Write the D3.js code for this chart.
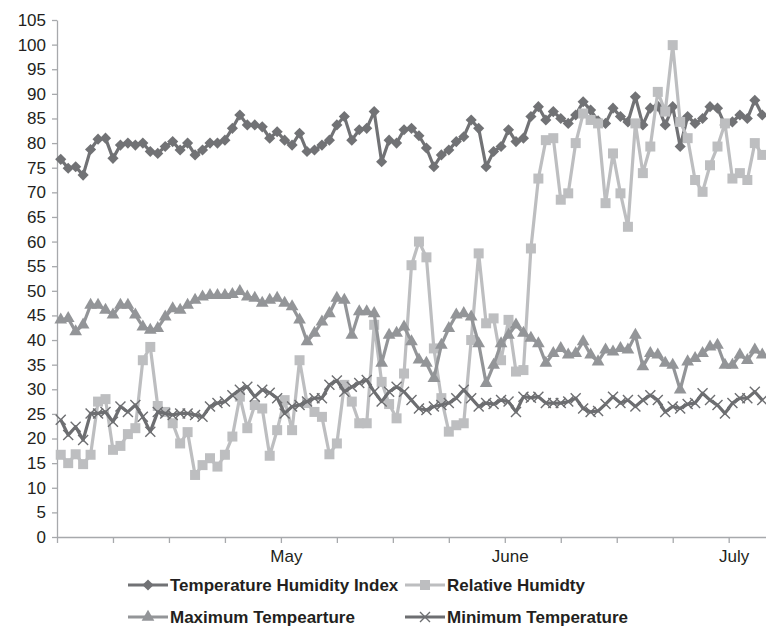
<!DOCTYPE html>
<html>
<head>
<meta charset="utf-8">
<script src="https://cdn.jsdelivr.net/npm/d3@7/dist/d3.min.js"></script>
<style>
  body { margin: 0; background: #fff; }
  svg { display: block; font-family: "Liberation Sans", Arial, sans-serif; }
</style>
</head>
<body>
<svg id="chart" width="766" height="628"></svg>
<script>
/** DATA **/
var thi = [
   76.7, 74.9, 75.2, 73.5, 78.7, 80.8, 81.0, 76.9, 79.6, 80.0,
   79.6, 80.0, 78.3, 77.9, 79.3, 80.3, 78.6, 80.0, 77.6, 78.6,
   80.0, 80.0, 80.6, 83.0, 85.7, 83.7, 83.7, 83.3, 81.0, 82.3,
   80.6, 79.6, 82.0, 78.3, 78.6, 79.6, 80.6, 83.7, 85.4, 80.6,
   82.7, 83.0, 86.4, 76.2, 80.6, 80.0, 82.7, 83.0, 81.5, 79.0,
   75.2, 77.6, 78.6, 80.3, 81.3, 84.7, 83.0, 75.2, 78.3, 79.3,
   82.7, 80.3, 81.0, 85.4, 87.4, 84.7, 86.4, 85.0, 84.0, 85.7,
   88.4, 86.7, 84.5, 84.0, 87.1, 85.4, 84.3, 89.4, 83.7, 87.1,
   87.5, 83.7, 87.4, 79.3, 85.4, 84.0, 85.0, 87.4, 87.1, 83.7,
   84.3, 85.7, 85.0, 88.7, 85.7
];
var humidity = [
   16.7, 15.0, 16.8, 14.8, 16.7, 27.5, 28.0, 17.7, 18.5, 20.9,
   22.1, 35.9, 38.6, 26.6, 25.4, 23.1, 19.0, 21.3, 12.6, 14.6,
   16.0, 14.3, 16.7, 20.4, 28.5, 22.1, 26.8, 26.1, 16.5, 21.7,
   27.8, 21.7, 35.9, 27.2, 25.4, 24.4, 16.8, 19.0, 30.9, 27.5,
   23.1, 23.1, 43.1, 31.5, 27.0, 24.1, 33.2, 55.2, 60.0, 56.8,
   38.3, 28.2, 21.4, 22.7, 23.1, 40.0, 57.6, 43.4, 44.4, 35.9,
   44.1, 33.6, 33.9, 58.6, 72.8, 80.6, 81.0, 68.5, 69.8, 80.0,
   86.0, 84.7, 84.0, 67.8, 77.9, 69.8, 63.0, 84.0, 73.9, 79.3,
   90.4, 86.4, 99.9, 84.3, 81.0, 72.5, 70.1, 75.5, 79.3, 84.0,
   72.8, 73.9, 72.5, 80.0, 77.6
];
var maxTemp = [
   44.1, 44.4, 41.7, 43.1, 47.1, 47.1, 46.1, 45.1, 47.1, 47.1,
   45.1, 42.7, 42.0, 42.4, 44.7, 46.4, 46.1, 47.1, 48.1, 48.8,
   49.1, 49.1, 49.1, 49.3, 49.9, 48.8, 48.5, 47.5, 48.1, 48.5,
   47.5, 46.8, 44.1, 39.7, 41.4, 43.7, 45.4, 48.5, 48.1, 41.0,
   45.8, 45.8, 45.4, 35.3, 41.0, 41.4, 42.7, 39.7, 36.0, 35.3,
   32.2, 39.0, 42.4, 45.1, 45.4, 44.7, 39.3, 31.2, 34.9, 39.3,
   41.0, 43.1, 41.4, 40.4, 39.3, 35.3, 37.3, 38.3, 37.0, 37.3,
   39.7, 37.0, 35.6, 38.0, 37.6, 38.3, 38.0, 41.0, 34.6, 37.3,
   37.0, 35.3, 34.9, 29.9, 35.6, 36.3, 37.3, 38.6, 39.0, 34.9,
   34.9, 37.0, 35.9, 38.0, 37.0
];
var minTemp = [
   23.8, 20.7, 22.4, 19.7, 25.1, 25.1, 25.4, 23.4, 26.5, 25.4,
   26.8, 24.4, 21.4, 25.4, 25.1, 24.8, 25.1, 25.1, 24.8, 24.4,
   26.5, 27.2, 27.5, 28.8, 29.9, 30.5, 28.5, 29.9, 29.3, 28.2,
   25.1, 26.5, 26.8, 27.5, 28.2, 28.2, 30.9, 31.8, 29.5, 30.5,
   31.3, 31.9, 29.5, 27.5, 29.5, 30.5, 29.5, 27.8, 26.1, 25.8,
   26.5, 26.8, 27.2, 28.2, 29.9, 28.2, 26.5, 27.2, 27.0, 27.8,
   27.5, 25.4, 28.5, 28.3, 28.5, 27.2, 27.2, 27.2, 27.5, 28.2,
   26.1, 25.4, 25.6, 27.0, 28.5, 27.2, 27.8, 26.5, 27.8, 28.8,
   27.8, 25.4, 26.5, 26.1, 27.0, 27.2, 29.2, 27.8, 26.8, 25.1,
   27.2, 28.2, 28.2, 29.5, 27.8
];
var monthNames = ['May', 'June', 'July'];
var monthTickNo = [4, 8, 12];     // which x tick carries each month label
var yTicks = d3.range(0, 106, 5);

/** LAYOUT **/
var svg = d3.select('#chart');
var plotLeft = 57, plotRight = 766, plotTop = 20, plotBottom = 537;
var n = thi.length;

var x = d3.scaleLinear().domain([-0.5, n - 0.5]).range([plotLeft, plotRight]);
var y = d3.scaleLinear().domain([0, 105]).range([plotBottom, plotTop]);

var axisColor = '#a7a9ac', textColor = '#231f20';

// x ticks every 7.5 points, as on the original axis
var xTicks = d3.range(13).map(function(k){ return -0.5 + 7.5 * k; });

/** AXES **/
var gy = svg.append('g')
   .attr('transform', 'translate(' + plotLeft + ',0)')
   .call(d3.axisLeft(y).tickValues(yTicks).tickSize(5).tickSizeOuter(0).tickPadding(6));
gy.select('.domain').attr('stroke', axisColor).attr('stroke-width', 1.3);
gy.selectAll('.tick line').attr('stroke', axisColor).attr('stroke-width', 1.3);
gy.selectAll('.tick text')
   .attr('fill', textColor)
   .style('font-size', '17px')
   .style('font-family', '"Liberation Sans", Arial, sans-serif');

var gx = svg.append('g')
   .attr('transform', 'translate(0,' + plotBottom + ')')
   .call(d3.axisBottom(x).tickValues(xTicks).tickSize(6).tickSizeOuter(0)
      .tickFormat(function(d, i){
         var m = monthTickNo.indexOf(i);
         return m >= 0 ? monthNames[m] : '';
      }));
gx.select('.domain').attr('stroke', axisColor).attr('stroke-width', 1.3);
gx.selectAll('.tick line').attr('stroke', axisColor).attr('stroke-width', 1.3);
gx.selectAll('.tick text')
   .attr('fill', textColor)
   .attr('x', 5)
   .attr('y', 13)
   .style('font-size', '17px')
   .style('font-family', '"Liberation Sans", Arial, sans-serif');

/** SERIES **/
var diamond = d3.symbol().type(d3.symbolSquare).size(62)();
var square = d3.symbol().type(d3.symbolSquare).size(100)();
var triangle = d3.symbol().type(d3.symbolTriangle).size(70)();
var cross = 'M-5,-5L5,5M-5,5L5,-5';

var series = [
   { name: 'Temperature Humidity Index', values: thi, color: '#717275', marker: diamond, rotate: 45, stroke: false },
   { name: 'Relative Humidty', values: humidity, color: '#bdbec0', marker: square, rotate: 0, stroke: false },
   { name: 'Maximum Tempearture', values: maxTemp, color: '#939598', marker: triangle, rotate: 0, stroke: false },
   { name: 'Minimum  Temperature', values: minTemp, color: '#6d6e71', marker: cross, rotate: 0, stroke: true }
];

var line = d3.line()
   .x(function(d, i){ return x(i); })
   .y(function(d){ return y(d); });

function drawMarker(sel, s){
   sel.append('path')
      .attr('d', s.marker)
      .attr('fill', s.stroke ? 'none' : s.color)
      .attr('stroke', s.stroke ? s.color : 'none')
      .attr('stroke-width', s.stroke ? 1.4 : 0);
}

series.forEach(function(s){
   var g = svg.append('g');
   g.append('path')
      .datum(s.values)
      .attr('d', line)
      .attr('fill', 'none')
      .attr('stroke', s.color)
      .attr('stroke-width', 3.2)
      .attr('stroke-linejoin', 'round');

   g.selectAll('g.pt')
      .data(s.values)
      .enter()
      .append('g')
      .attr('class', 'pt')
      .attr('transform', function(d, i){
         return 'translate(' + x(i) + ',' + y(d) + ') rotate(' + s.rotate + ')';
      })
      .each(function(){ drawMarker(d3.select(this), s); });
});

/** LEGEND **/
var legendPos = [[128, 585], [405, 585], [128, 617], [405, 617]];
series.forEach(function(s, i){
   var p = legendPos[i];
   var g = svg.append('g').attr('transform', 'translate(' + p[0] + ',' + p[1] + ')');
   g.append('line')
      .attr('x1', 0).attr('x2', 40)
      .attr('stroke', s.color)
      .attr('stroke-width', 3);
   var m = g.append('g').attr('transform', 'translate(20,0) rotate(' + s.rotate + ')');
   drawMarker(m, s);
   g.append('text')
      .attr('x', 42)
      .attr('dy', '0.35em')
      .attr('fill', textColor)
      .style('font-size', '17px')
      .style('font-weight', 'bold')
      .text(s.name);
});
</script>
</body>
</html>
